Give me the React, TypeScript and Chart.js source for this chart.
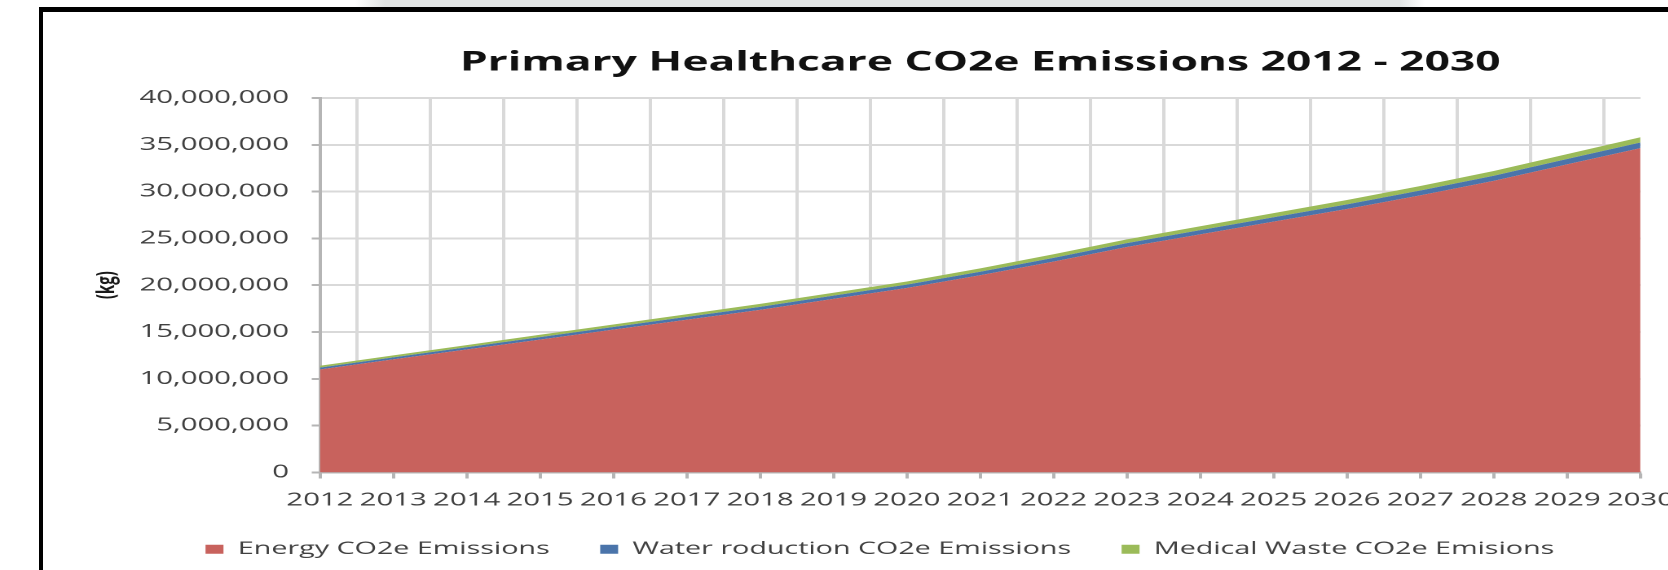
import React, { useEffect, useRef } from 'react';
import { Chart, registerables } from 'chart.js';

Chart.register(...registerables);

const years = ['2012', '2013', '2014', '2015', '2016', '2017', '2018', '2019', '2020', '2021', '2022', '2023', '2024', '2025', '2026', '2027', '2028', '2029', '2030'];
const energy = [11000000, 12070000, 13130000, 14190000, 15250000, 16310000, 17370000, 18540000, 19700000, 21060000, 22520000, 24080000, 25430000, 26790000, 28140000, 29600000, 31150000, 32910000, 34650000];
const water = [200000, 220000, 240000, 260000, 280000, 300000, 320000, 340000, 360000, 380000, 400000, 420000, 450000, 470000, 500000, 520000, 550000, 570000, 600000];
const waste = [200000, 210000, 230000, 250000, 270000, 290000, 310000, 320000, 340000, 360000, 380000, 400000, 420000, 440000, 460000, 480000, 500000, 520000, 550000];
const seriesNames = ['Energy CO2e Emissions', 'Water roduction CO2e Emissions', 'Medical Waste CO2e Emisions'];
const seriesColors = ['#c8625d', '#4a74aa', '#9bbb59'];
const chartTitle = 'Primary Healthcare CO2e Emissions 2012 - 2030';
const yTitle = '(kg)';
const yMax = 40000000;
const yStep = 5000000;

const SX = 1.63;
const W = 1027;
const H = 570;
const FONT = "'Open Sans', sans-serif";

export default function App() {
  const ref = useRef<HTMLCanvasElement | null>(null);

  useEffect(() => {
    if (!ref.current) return;
    Chart.defaults.font.family = FONT;
    const chart = new Chart(ref.current, {
      type: 'line',
      data: {
        labels: years,
        datasets: [
          { label: seriesNames[0], data: energy, backgroundColor: seriesColors[0], borderColor: seriesColors[0], borderWidth: 0, fill: 'origin', pointRadius: 0, tension: 0 },
          { label: seriesNames[1], data: water, backgroundColor: seriesColors[1], borderColor: seriesColors[1], borderWidth: 0, fill: '-1', pointRadius: 0, tension: 0 },
          { label: seriesNames[2], data: waste, backgroundColor: seriesColors[2], borderColor: seriesColors[2], borderWidth: 0, fill: '-1', pointRadius: 0, tension: 0 },
        ],
      },
      options: {
        animation: false,
        responsive: false,
        devicePixelRatio: 2,
        events: [],
        layout: { padding: { left: 52.6, right: 0, top: 0, bottom: 2 } },
        scales: {
          x: {
            type: 'category',
            position: 'bottom',
            offset: false,
            grid: { drawOnChartArea: false, drawTicks: true, tickLength: 19, tickBorderDash: [5, 100], tickColor: '#b5b5b5', tickWidth: 2 },
            border: { display: true, color: '#b5b5b5', width: 2 },
            ticks: { font: { size: 18, lineHeight: 1 }, color: '#404040', padding: 0, maxRotation: 0, autoSkip: false },
          },
          x2: {
            type: 'category',
            position: 'top',
            offset: false,
            grid: { offset: true, drawTicks: false, color: '#d9d9d9', lineWidth: 2 },
            border: { display: false },
            ticks: { display: false },
          },
          y: {
            stacked: true,
            min: 0,
            max: yMax,
            ticks: {
              stepSize: yStep,
              callback: (v: any) => Number(v).toLocaleString('en-US'),
              font: { size: 18 },
              color: '#404040',
              padding: 14,
            },
            grid: { color: '#d9d9d9', lineWidth: 2, tickColor: '#b5b5b5', tickLength: 5, tickWidth: 2 },
            border: { color: '#b5b5b5', width: 2 },
            title: { display: true, text: yTitle, font: { size: 15, weight: 'bold' }, color: '#1a1a1a', padding: { top: 4, bottom: -3 } },
          },
        },
        plugins: {
          title: { display: true, text: chartTitle, fullSize: false, font: { size: 27.2, weight: 'bold' }, color: '#111111', padding: { top: 46.2, bottom: 19.16 } },
          legend: {
            position: 'bottom',
            align: 'center',
            labels: { boxWidth: 11, boxHeight: 9, padding: 31, font: { size: 17.6 }, color: '#404040' },
          },
          tooltip: { enabled: false },
        },
      } as any,
    });
    return () => chart.destroy();
  }, []);

  return (
    <div style={{ position: 'fixed', left: 0, top: 0, width: 1668, height: 570, overflow: 'hidden', background: '#ffffff' }}>
      <div style={{ position: 'absolute', left: 355, top: 0, width: 1070, height: 8, background: 'linear-gradient(to right, rgba(225,228,228,0) 0px, #e1e4e4 30px, #e1e4e4 1045px, rgba(225,228,228,0) 1070px)' }} />
      <div style={{ position: 'absolute', left: 0, top: 0, width: W, height: H, transform: `scaleX(${SX})`, transformOrigin: '0 0' }}>
        <canvas ref={ref} width={W} height={H} style={{ width: W, height: H, display: 'block' }} />
      </div>
      <div style={{ position: 'absolute', left: 39, top: 7, width: 1700, height: 600, borderTop: '5px solid #000', borderLeft: '4px solid #000', boxSizing: 'border-box', pointerEvents: 'none' }} />
    </div>
  );
}
